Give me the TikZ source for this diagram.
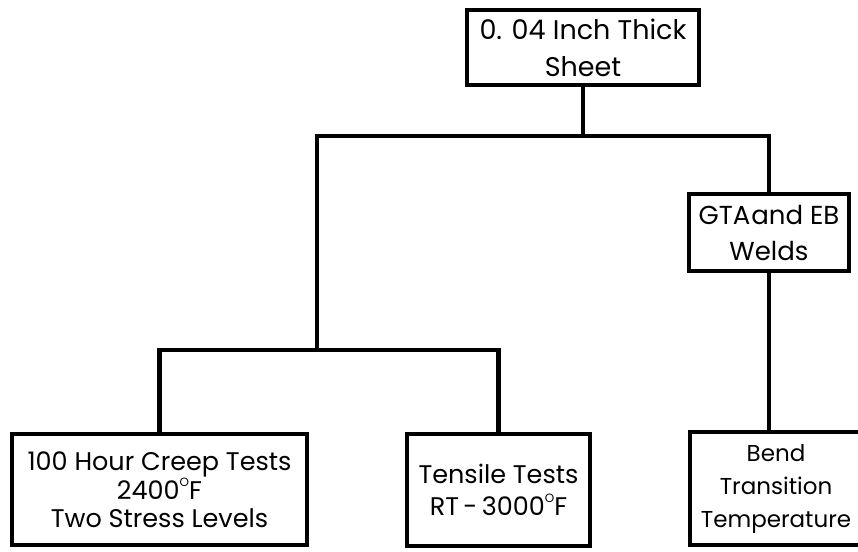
\documentclass[tikz,border=0pt]{standalone}
\usepackage{fontspec}
\setmainfont{Poppins}
\newcommand\degF{\raisebox{13pt}{\fontsize{12}{12}\selectfont O}F}
\begin{document}
\begin{tikzpicture}[x=1pt,y=-1pt,
  box/.style={draw, line width=4.5pt, rectangle, inner sep=0pt, align=center},
  conn/.style={line width=4.5pt}]
\useasboundingbox (0,0) rectangle (858,551);
\node[box, minimum width=232pt, minimum height=75pt, font=\fontsize{27}{37}\selectfont] (top) at (583,47.5) {0. 04 Inch Thick\\Sheet};
\node[box, minimum width=160pt, minimum height=77pt, font=\fontsize{26}{36}\selectfont] (gta) at (769,232.5) {GTA\kern1pt and EB\\Welds};
\node[box, minimum width=295pt, minimum height=111pt, font=\fontsize{25.5}{28}\selectfont] (creep) at (159.5,489.5) {100 Hour Creep Tests\\2400\degF\\Two Stress Levels};
\node[box, minimum width=183pt, minimum height=112pt, font=\fontsize{25.5}{32}\selectfont] (tens) at (498.5,490) {Tensile Tests\\RT\,-\,3000\degF};
\node[box, minimum width=172pt, minimum height=113pt, font=\fontsize{23}{33}\selectfont] (bend) at (776,488.5) {Bend\\Transition\\Temperature};
\coordinate (hL) at (317,136);
\coordinate (m) at (317,350);
\draw[conn] (top.south) -- (top.south |- hL);
\draw[conn] (m) -- (hL) -| (gta.north);
\draw[conn] (creep.north) |- (tens.north |- m) -- (tens.north);
\draw[conn] (gta.south) -- (gta.south |- bend.north);
\end{tikzpicture}
\end{document}
